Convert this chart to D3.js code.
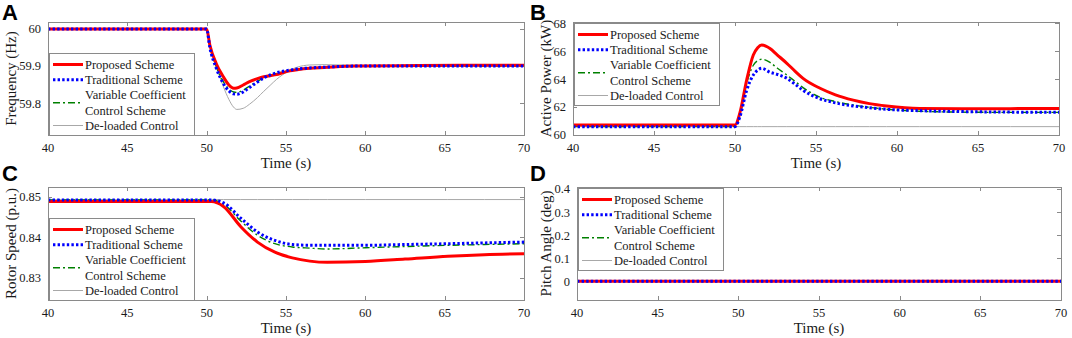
<!DOCTYPE html>
<html>
<head>
<meta charset="utf-8">
<script src="https://cdn.jsdelivr.net/npm/d3@7"></script>
<style>
  body { margin: 0; background: #fff; }
  svg { display: block; font-family: "Liberation Serif", "Times New Roman", serif; }
</style>
</head>
<body>
<div id="chart"></div>
<script>
// ---- data ----
const seriesNames = ["Proposed Scheme", "Traditional Scheme", "Variable Coefficient\nControl Scheme", "De-loaded Control"];
const xTicks = [40, 45, 50, 55, 60, 65, 70];

// (A) frequency, Hz
const tA = [40, 50, 50.2, 50.6, 51.05, 51.4, 51.7, 51.9, 52.3, 52.7, 53.2, 53.6, 54.0, 54.4, 54.8, 55.25, 55.7, 56.5, 57.4, 59.4, 62, 66, 70];
const freqProposed    = [60, 60, 59.957, 59.907, 59.871, 59.849, 59.840, 59.841, 59.849, 59.858, 59.866, 59.871, 59.874, 59.877, 59.882, 59.887, 59.890, 59.894, 59.896, 59.900, 59.901, 59.902, 59.902];
const freqTraditional = [60, 60, 59.950, 59.895, 59.853, 59.833, 59.825, 59.824, 59.830, 59.842, 59.857, 59.868, 59.876, 59.882, 59.886, 59.889, 59.892, 59.895, 59.897, 59.900, 59.900, 59.900, 59.900];
const freqVariable    = [60, 60, 59.953, 59.899, 59.858, 59.838, 59.830, 59.829, 59.835, 59.846, 59.859, 59.868, 59.875, 59.880, 59.884, 59.888, 59.891, 59.894, 59.897, 59.900, 59.900, 59.900, 59.900];
const freqDeloaded    = [60, 60, 59.955, 59.900, 59.845, 59.810, 59.789, 59.783, 59.786, 59.797, 59.815, 59.832, 59.848, 59.864, 59.877, 59.889, 59.897, 59.903, 59.904, 59.902, 59.900, 59.900, 59.900];
const yTicksA = [59.8, 59.9, 60];

// (B) active power, kW
const tB = [40, 50, 50.3, 50.72, 51.13, 51.4, 51.65, 52.16, 52.6, 53.2, 53.7, 54.2, 55.25, 56.2, 57.3, 58.3, 59.36, 61.4, 64, 67, 70];
const powerProposed    = [60.72, 60.72, 61.58, 63.94, 65.73, 66.25, 66.45, 66.2, 65.75, 65.14, 64.58, 64.06, 63.35, 62.88, 62.5, 62.25, 62.08, 61.9, 61.88, 61.89, 61.9];
const powerTraditional = [60.6, 60.6, 61.3, 63.2, 64.3, 64.65, 64.78, 64.5, 64.35, 64.06, 63.65, 63.2, 62.6, 62.3, 62.08, 61.95, 61.84, 61.74, 61.68, 61.64, 61.63];
const powerVariable    = [60.6, 60.6, 61.4, 63.7, 65.0, 65.33, 65.43, 65.2, 64.8, 64.3, 63.85, 63.4, 62.7, 62.4, 62.15, 61.98, 61.85, 61.7, 61.64, 61.62, 61.62];
const powerDeloaded    = [60.6, 60.6, 60.6, 60.6, 60.6, 60.6, 60.6, 60.6, 60.6, 60.6, 60.6, 60.6, 60.6, 60.6, 60.6, 60.6, 60.6, 60.6, 60.6, 60.6, 60.6];
const yTicksB = [60, 62, 64, 66, 68];

// (C) rotor speed, p.u.
const tC = [40, 50.3, 51.06, 52.15, 53.2, 54.3, 55.4, 56.5, 57.6, 60, 62.5, 65.2, 67.5, 70];
const speedProposed    = [0.8488, 0.8488, 0.8476, 0.8426, 0.8388, 0.8363, 0.8349, 0.8341, 0.8338, 0.8340, 0.8346, 0.8353, 0.8357, 0.8359];
const speedTraditional = [0.8492, 0.8492, 0.8485, 0.8447, 0.8413, 0.8392, 0.8382, 0.8380, 0.8380, 0.8380, 0.8382, 0.8384, 0.8386, 0.8388];
const speedVariable    = [0.8492, 0.8492, 0.8482, 0.8440, 0.8405, 0.8384, 0.8376, 0.8373, 0.8371, 0.8374, 0.8377, 0.8380, 0.8382, 0.8384];
const speedDeloaded    = [0.8493, 0.8493, 0.8493, 0.8493, 0.8493, 0.8493, 0.8493, 0.8493, 0.8493, 0.8493, 0.8493, 0.8493, 0.8493, 0.8493];
const yTicksC = [0.83, 0.84, 0.85];

// (D) pitch angle, deg
const tD = [40, 50, 60, 70];
const pitchProposed    = [0, 0, 0, 0];
const pitchTraditional = [0, 0, 0, 0];
const pitchVariable    = [0, 0, 0, 0];
const pitchDeloaded    = [0, 0, 0, 0];
const yTicksD = [0, 0.1, 0.2, 0.3, 0.4];

// ---- styles ----
const styles = [
  { color: "#ff0000", width: 3, dash: null },
  { color: "#0000ff", width: 3, dash: "2.4,2.2" },
  { color: "#008000", width: 1.4, dash: "7,3,2,3" },
  { color: "#a8a8a8", width: 1, dash: null }
];
const drawOrder = [3, 2, 0, 1];
const boxColor = "#8a8a8a";
const textColor = "#1a1a1a";

const svg = d3.select("#chart").append("svg")
  .attr("width", 1072)
  .attr("height", 338);
svg.append("rect").attr("width", 1072).attr("height", 338).attr("fill", "#fff");

const panels = [
  { letter: "A", lx: 2, ly: 20, x0: 48, x1: 524, y0: 22, y1: 135, domain: [59.714, 60.019],
    ticks: yTicksA, fmt: d => d3.format(".1f")(d).replace(/\.0$/, ""), ylabel: "Frequency (Hz)", labelX: 11,
    t: tA, series: [freqProposed, freqTraditional, freqVariable, freqDeloaded], legend: "bottom" },
  { letter: "B", lx: 530, ly: 20, x0: 573, x1: 1059, y0: 22, y1: 135, domain: [60, 68.1],
    ticks: yTicksB, fmt: d3.format("d"), ylabel: "Active Power (kW)", labelX: 546,
    t: tB, series: [powerProposed, powerTraditional, powerVariable, powerDeloaded], legend: "top" },
  { letter: "C", lx: 2, ly: 181, x0: 48, x1: 524, y0: 187, y1: 300, domain: [0.8245, 0.8524],
    ticks: yTicksC, fmt: d3.format(".2f"), ylabel: "Rotor Speed (p.u.)", labelX: 11,
    t: tC, series: [speedProposed, speedTraditional, speedVariable, speedDeloaded], legend: "bottom" },
  { letter: "D", lx: 530, ly: 181, x0: 577, x1: 1061, y0: 187, y1: 300, domain: [-0.081, 0.409],
    ticks: yTicksD, fmt: d => d === 0 ? "0" : d3.format(".1f")(d), ylabel: "Pitch Angle (deg)", labelX: 546,
    t: tD, series: [pitchProposed, pitchTraditional, pitchVariable, pitchDeloaded], legend: "top" }
];

panels.forEach((p, pi) => {
  const x = d3.scaleLinear().domain([40, 70]).range([p.x0, p.x1]);
  const y = d3.scaleLinear().domain(p.domain).range([p.y1, p.y0]);
  const g = svg.append("g");
  const clipId = "clip" + pi;

  g.append("clipPath").attr("id", clipId)
    .append("rect")
    .attr("x", p.x0).attr("y", p.y0)
    .attr("width", p.x1 - p.x0).attr("height", p.y1 - p.y0);

  // inward ticks on all four sides, matlab style
  const tickLen = 4;
  const tk = g.append("g").attr("stroke", boxColor).attr("stroke-width", 1);
  xTicks.forEach(v => {
    const xx = Math.round(x(v)) + 0.5;
    tk.append("line").attr("x1", xx).attr("x2", xx).attr("y1", p.y1).attr("y2", p.y1 - tickLen);
    tk.append("line").attr("x1", xx).attr("x2", xx).attr("y1", p.y0).attr("y2", p.y0 + tickLen);
  });
  p.ticks.forEach(v => {
    const yy = Math.round(y(v)) + 0.5;
    tk.append("line").attr("x1", p.x0).attr("x2", p.x0 + tickLen).attr("y1", yy).attr("y2", yy);
    tk.append("line").attr("x1", p.x1).attr("x2", p.x1 - tickLen).attr("y1", yy).attr("y2", yy);
  });

  // tick labels
  g.append("g").selectAll("text").data(xTicks).join("text")
    .attr("x", d => x(d)).attr("y", p.y1 + 17)
    .attr("text-anchor", "middle")
    .attr("font-size", 12.5).attr("fill", textColor)
    .text(d => d);
  g.append("g").selectAll("text").data(p.ticks).join("text")
    .attr("x", p.x0 - 7).attr("y", d => y(d))
    .attr("dy", "0.35em")
    .attr("text-anchor", "end")
    .attr("font-size", 12.5).attr("fill", textColor)
    .text(p.fmt);

  // axis labels
  g.append("text")
    .attr("x", (p.x0 + p.x1) / 2).attr("y", p.y1 + 33)
    .attr("text-anchor", "middle")
    .attr("font-size", 15).attr("fill", textColor)
    .text("Time (s)");
  g.append("text")
    .attr("transform", `translate(${p.labelX},${(p.y0 + p.y1) / 2}) rotate(-90)`)
    .attr("dy", "0.35em")
    .attr("text-anchor", "middle")
    .attr("font-size", 15).attr("fill", textColor)
    .text(p.ylabel);

  // lines
  const line = d3.line()
    .x(d => x(d[0]))
    .y(d => y(d[1]))
    .curve(d3.curveMonotoneX);
  const lines = g.append("g").attr("clip-path", `url(#${clipId})`);
  drawOrder.forEach(si => {
    const s = styles[si];
    lines.append("path")
      .datum(p.t.map((tv, i) => [tv, p.series[si][i]]))
      .attr("fill", "none")
      .attr("stroke", s.color)
      .attr("stroke-width", s.width)
      .attr("stroke-dasharray", s.dash)
      .attr("d", line);
  });

  // box
  g.append("rect")
    .attr("x", p.x0 + 0.5).attr("y", p.y0 + 0.5)
    .attr("width", p.x1 - p.x0).attr("height", p.y1 - p.y0)
    .attr("fill", "none").attr("stroke", boxColor);

  // legend
  const lw = 145, lh = 82;
  const ly0 = p.legend === "top" ? p.y0 + 1 : p.y1 - lh;
  const leg = g.append("g").attr("transform", `translate(${p.x0 + 1},${ly0})`);
  leg.append("rect")
    .attr("x", 0.5).attr("y", 0.5)
    .attr("width", lw).attr("height", lh)
    .attr("fill", "#fff").attr("stroke", boxColor);
  const rows = [11.5, 26.8, 49.7, 72.5];
  seriesNames.forEach((name, i) => {
    const s = styles[i];
    leg.append("line")
      .attr("x1", 4).attr("x2", 34)
      .attr("y1", rows[i]).attr("y2", rows[i])
      .attr("stroke", s.color)
      .attr("stroke-width", s.width)
      .attr("stroke-dasharray", s.dash);
    const parts = name.split("\n");
    parts.forEach((txt, k) => {
      leg.append("text")
        .attr("x", 36)
        .attr("y", rows[i] + (k - (parts.length - 1) / 2) * 15.3)
        .attr("dy", "0.35em")
        .attr("font-size", 12.5).attr("fill", textColor)
        .text(txt);
    });
  });

  // panel letter
  svg.append("text")
    .attr("x", p.lx).attr("y", p.ly)
    .attr("font-family", "'Liberation Sans', Arial, sans-serif")
    .attr("font-weight", "bold")
    .attr("font-size", 22)
    .attr("fill", "#000")
    .text(p.letter);
});
</script>
</body>
</html>
